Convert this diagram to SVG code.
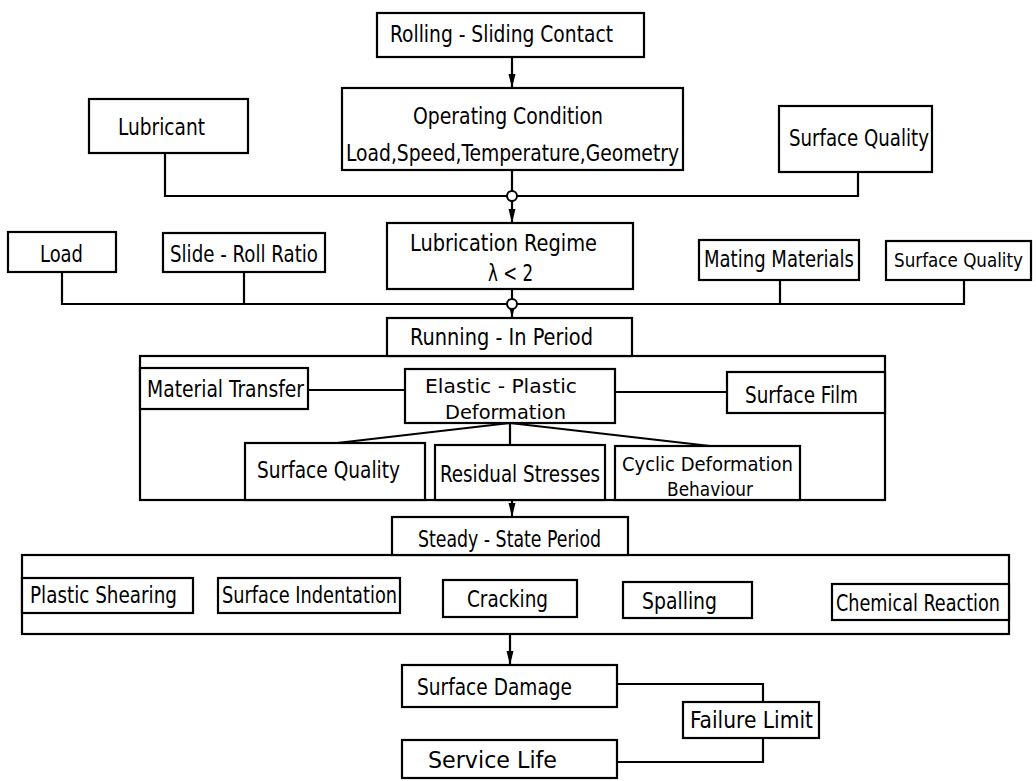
<svg xmlns="http://www.w3.org/2000/svg" width="1036" height="781" viewBox="0 0 1036 781">
<style>
.b{fill:#fff;stroke:#000;stroke-width:2.2}
.c{fill:none;stroke:#000;stroke-width:2.2}
.j{fill:#fff;stroke:#000;stroke-width:2}
text{font-family:"DejaVu Sans Condensed","Liberation Sans Narrow","Liberation Sans",sans-serif;font-size:23.5px;fill:#000}
text.s{font-size:20px}
text.t{font-size:19.5px}
</style>
<defs>
<marker id="ah" viewBox="0 0 14 8" refX="14" refY="4" markerWidth="14" markerHeight="8" markerUnits="userSpaceOnUse" orient="auto">
<path d="M0,0.5 L14,4 L0,7.5 z" fill="#000"/>
</marker>
</defs>
<rect width="1036" height="781" fill="#fff"/>

<g id="containers">
<rect id="running-in-frame" class="b" x="140" y="356" width="745" height="144"/>
<rect id="steady-state-frame" class="b" x="22" y="555" width="987" height="79"/>
</g>

<g id="connectors">
<line class="c" x1="512" y1="57" x2="512" y2="88" marker-end="url(#ah)"/>
<line class="c" x1="512" y1="170" x2="512" y2="191"/>
<line class="c" x1="512" y1="201" x2="512" y2="223" marker-end="url(#ah)"/>
<polyline class="c" points="165,153 165,196 507,196"/>
<polyline class="c" points="858,172 858,196 517,196"/>
<line class="c" x1="512" y1="289" x2="512" y2="299"/>
<line class="c" x1="512" y1="309" x2="512" y2="318" marker-end="url(#ah)"/>
<polyline class="c" points="62,272 62,304 507,304"/>
<line class="c" x1="244" y1="272" x2="244" y2="304"/>
<polyline class="c" points="964,280 964,304 517,304"/>
<line class="c" x1="780" y1="280" x2="780" y2="304"/>
<line class="c" x1="308" y1="390" x2="405" y2="390"/>
<line class="c" x1="615" y1="392" x2="727" y2="392"/>
<line class="c" x1="510" y1="423" x2="337" y2="443"/>
<line class="c" x1="510" y1="423" x2="510" y2="445"/>
<line class="c" x1="510" y1="423" x2="710" y2="446"/>
<line class="c" x1="512" y1="500" x2="512" y2="517" marker-end="url(#ah)"/>
<line class="c" x1="510" y1="634" x2="510" y2="665" marker-end="url(#ah)"/>
<polyline class="c" points="617,684 763,684 763,702"/>
<polyline class="c" points="763,738 763,762 617,762"/>
<circle class="j" cx="512" cy="196" r="5"/>
<circle class="j" cx="512" cy="304" r="5"/>
</g>

<g id="rolling-sliding-contact"><rect class="b" x="377" y="13" width="267" height="44"/><text x="390" y="42" textLength="223" lengthAdjust="spacingAndGlyphs">Rolling - Sliding Contact</text></g>
<g id="operating-condition"><rect class="b" x="342" y="88" width="341" height="82"/><text x="413" y="124" textLength="190" lengthAdjust="spacingAndGlyphs">Operating Condition</text><text x="346" y="161" textLength="333" lengthAdjust="spacingAndGlyphs">Load,Speed,Temperature,Geometry</text></g>
<g id="lubricant"><rect class="b" x="89" y="99" width="159" height="54"/><text x="118" y="135" textLength="87" lengthAdjust="spacingAndGlyphs">Lubricant</text></g>
<g id="surface-quality-1"><rect class="b" x="779" y="106" width="153" height="66"/><text x="789" y="146" textLength="140" lengthAdjust="spacingAndGlyphs">Surface Quality</text></g>
<g id="lubrication-regime"><rect class="b" x="387" y="223" width="246" height="66"/><text x="410" y="251" textLength="187" lengthAdjust="spacingAndGlyphs">Lubrication  Regime</text><text x="488" y="281" textLength="45" lengthAdjust="spacingAndGlyphs">λ &lt; 2</text></g>
<g id="load"><rect class="b" x="8" y="232" width="108" height="40"/><text x="40" y="262" textLength="43" lengthAdjust="spacingAndGlyphs">Load</text></g>
<g id="slide-roll-ratio"><rect class="b" x="163" y="233" width="162" height="39"/><text x="170" y="262" textLength="148" lengthAdjust="spacingAndGlyphs">Slide - Roll  Ratio</text></g>
<g id="mating-materials"><rect class="b" x="699" y="240" width="160" height="40"/><text x="704" y="267" textLength="150" lengthAdjust="spacingAndGlyphs">Mating Materials</text></g>
<g id="surface-quality-2"><rect class="b" x="886" y="241" width="145" height="39"/><text class="t" x="894" y="267" textLength="129" lengthAdjust="spacingAndGlyphs">Surface Quality</text></g>
<g id="running-in-period"><rect class="b" x="387" y="318" width="245" height="38"/><text x="410" y="345" textLength="183" lengthAdjust="spacingAndGlyphs">Running - In  Period</text></g>
<g id="material-transfer"><rect class="b" x="140" y="368" width="168" height="41"/><text x="147" y="397" textLength="157" lengthAdjust="spacingAndGlyphs">Material Transfer</text></g>
<g id="elastic-plastic-deformation"><rect class="b" x="405" y="369" width="210" height="54"/><text class="s" x="425" y="393" textLength="152" lengthAdjust="spacingAndGlyphs">Elastic  -  Plastic</text><text class="s" x="445" y="419" textLength="121" lengthAdjust="spacingAndGlyphs">Deformation</text></g>
<g id="surface-film"><rect class="b" x="727" y="372" width="158" height="41"/><text x="745" y="403" textLength="113" lengthAdjust="spacingAndGlyphs">Surface Film</text></g>
<g id="surface-quality-3"><rect class="b" x="245" y="443" width="180" height="57"/><text x="257" y="478" textLength="143" lengthAdjust="spacingAndGlyphs">Surface Quality</text></g>
<g id="residual-stresses"><rect class="b" x="435" y="445" width="170" height="55"/><text x="440" y="482" textLength="160" lengthAdjust="spacingAndGlyphs">Residual Stresses</text></g>
<g id="cyclic-deformation-behaviour"><rect class="b" x="615" y="446" width="185" height="54"/><text class="s" x="622" y="471" textLength="171" lengthAdjust="spacingAndGlyphs">Cyclic Deformation</text><text class="s" x="667" y="496" textLength="86" lengthAdjust="spacingAndGlyphs">Behaviour</text></g>
<g id="steady-state-period"><rect class="b" x="392" y="517" width="236" height="38"/><text x="418" y="547" textLength="183" lengthAdjust="spacingAndGlyphs">Steady - State Period</text></g>
<g id="plastic-shearing"><rect class="b" x="22" y="578" width="171" height="35"/><text x="30" y="603" textLength="147" lengthAdjust="spacingAndGlyphs">Plastic Shearing</text></g>
<g id="surface-indentation"><rect class="b" x="218" y="578" width="182" height="35"/><text x="222" y="603" textLength="175" lengthAdjust="spacingAndGlyphs">Surface Indentation</text></g>
<g id="cracking"><rect class="b" x="443" y="580" width="134" height="37"/><text x="467" y="607" textLength="81" lengthAdjust="spacingAndGlyphs">Cracking</text></g>
<g id="spalling"><rect class="b" x="623" y="582" width="129" height="36"/><text x="642" y="609" textLength="75" lengthAdjust="spacingAndGlyphs">Spalling</text></g>
<g id="chemical-reaction"><rect class="b" x="832" y="584" width="177" height="36"/><text x="836" y="611" textLength="164" lengthAdjust="spacingAndGlyphs">Chemical Reaction</text></g>
<g id="surface-damage"><rect class="b" x="402" y="665" width="215" height="42"/><text x="417" y="695" textLength="155" lengthAdjust="spacingAndGlyphs">Surface Damage</text></g>
<g id="failure-limit"><rect class="b" x="683" y="702" width="136" height="36"/><text x="690" y="728" textLength="123" lengthAdjust="spacingAndGlyphs">Failure Limit</text></g>
<g id="service-life"><rect class="b" x="402" y="740" width="215" height="38"/><text x="428" y="768" textLength="129" lengthAdjust="spacingAndGlyphs">Service  Life</text></g>
</svg>
